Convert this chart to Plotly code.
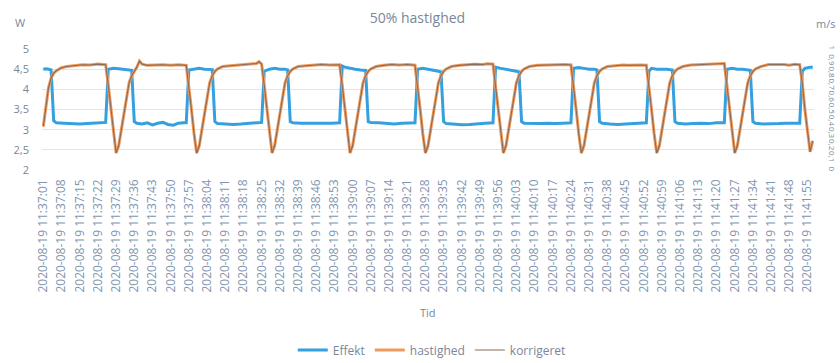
import pandas as pd
import plotly.graph_objects as go

# Tick labels on the time axis (every 7 s)
TICK_LABELS = [
    "2020-08-19 11:37:01", "2020-08-19 11:37:08", "2020-08-19 11:37:15", "2020-08-19 11:37:22",
    "2020-08-19 11:37:29", "2020-08-19 11:37:36", "2020-08-19 11:37:43", "2020-08-19 11:37:50",
    "2020-08-19 11:37:57", "2020-08-19 11:38:04", "2020-08-19 11:38:11", "2020-08-19 11:38:18",
    "2020-08-19 11:38:25", "2020-08-19 11:38:32", "2020-08-19 11:38:39", "2020-08-19 11:38:46",
    "2020-08-19 11:38:53", "2020-08-19 11:39:00", "2020-08-19 11:39:07", "2020-08-19 11:39:14",
    "2020-08-19 11:39:21", "2020-08-19 11:39:28", "2020-08-19 11:39:35", "2020-08-19 11:39:42",
    "2020-08-19 11:39:49", "2020-08-19 11:39:56", "2020-08-19 11:40:03", "2020-08-19 11:40:10",
    "2020-08-19 11:40:17", "2020-08-19 11:40:24", "2020-08-19 11:40:31", "2020-08-19 11:40:38",
    "2020-08-19 11:40:45", "2020-08-19 11:40:52", "2020-08-19 11:40:59", "2020-08-19 11:41:06",
    "2020-08-19 11:41:13", "2020-08-19 11:41:20", "2020-08-19 11:41:27", "2020-08-19 11:41:34",
    "2020-08-19 11:41:41", "2020-08-19 11:41:48", "2020-08-19 11:41:55",
]

# Effekt [W]: seconds after 11:37:01 and measured power
EFFEKT_T = [
    0, 1, 2, 3, 4, 5, 8, 11, 14, 17, 20, 22, 24,
    25, 27, 29, 31, 33, 34,
    35, 36, 38, 40, 42, 44, 46, 48, 50, 52, 54, 55,
    56, 58, 60, 62, 64, 65,
    66, 67, 70, 73, 76, 79, 82, 84,
    85, 87, 89, 91, 93, 94,
    95, 96, 99, 102, 105, 108, 111, 114,
    115, 116, 118, 120, 122, 124,
    125, 126, 129, 132, 135, 138, 141, 143,
    144, 146, 148, 150, 152, 153,
    154, 155, 158, 161, 164, 167, 170, 173,
    174, 176, 178, 180, 182, 183,
    184, 185, 188, 191, 194, 197, 200, 203,
    204, 206, 208, 210, 212, 213,
    214, 215, 218, 221, 224, 227, 230, 232,
    233, 234, 236, 238, 240, 242,
    243, 244, 247, 250, 253, 256, 259, 262,
    263, 265, 267, 269, 271, 272,
    273, 274, 277, 280, 283, 286, 289, 291,
    292, 293, 295, 296,
]
EFFEKT_V = [
    4.50, 4.51, 4.50, 4.48, 3.22, 3.17, 3.16, 3.15, 3.14, 3.15, 3.17, 3.18, 3.18,
    4.50, 4.52, 4.51, 4.50, 4.48, 4.47,
    3.20, 3.16, 3.14, 3.17, 3.12, 3.16, 3.18, 3.13, 3.11, 3.16, 3.17, 3.17,
    4.48, 4.50, 4.52, 4.50, 4.50, 4.49,
    3.20, 3.15, 3.14, 3.13, 3.14, 3.15, 3.17, 3.18,
    4.45, 4.50, 4.52, 4.50, 4.50, 4.48,
    3.20, 3.17, 3.16, 3.16, 3.15, 3.15, 3.16, 3.17,
    4.58, 4.55, 4.52, 4.50, 4.48, 4.47,
    3.20, 3.18, 3.17, 3.15, 3.14, 3.16, 3.17, 3.17,
    4.50, 4.52, 4.50, 4.48, 4.45, 4.43,
    3.20, 3.15, 3.13, 3.12, 3.13, 3.15, 3.16, 3.17,
    4.55, 4.52, 4.50, 4.48, 4.45, 4.43,
    3.20, 3.16, 3.15, 3.15, 3.16, 3.15, 3.16, 3.17,
    4.52, 4.54, 4.52, 4.50, 4.50, 4.48,
    3.20, 3.16, 3.14, 3.13, 3.14, 3.15, 3.17, 3.17,
    4.45, 4.52, 4.50, 4.50, 4.50, 4.48,
    3.20, 3.16, 3.14, 3.15, 3.16, 3.15, 3.17, 3.17,
    4.50, 4.52, 4.50, 4.50, 4.48, 4.47,
    3.20, 3.16, 3.14, 3.14, 3.15, 3.16, 3.15, 3.16,
    4.45, 4.52, 4.55, 4.55,
]

# hastighed [m/s]: seconds after 11:37:01 and measured speed
HASTIGHED_T = [
    0, 1, 2, 3, 4, 5, 7, 9, 12, 15, 18, 21, 23, 24,
    25, 26, 27, 28, 29, 30, 31, 32, 33, 34, 35, 36, 37, 38, 40, 43, 46, 49, 52, 55,
    56, 57, 58, 59, 60, 61, 62, 63, 64, 65, 66, 67, 69, 72, 75, 78, 80, 82, 83, 84,
    85, 86, 87, 88, 89, 90, 91, 92, 93, 94, 95, 96, 98, 101, 104, 107, 110, 113, 114,
    115, 116, 117, 118, 119, 120, 121, 122, 123, 124, 125, 126, 128, 131, 134, 137, 140, 143,
    144, 145, 146, 147, 148, 149, 150, 151, 152, 153, 154, 155, 157, 160, 163, 166, 169, 171, 173,
    174, 175, 176, 177, 178, 179, 180, 181, 182, 183, 184, 185, 187, 190, 193, 196, 199, 201, 203,
    204, 205, 206, 207, 208, 209, 210, 211, 212, 213, 214, 215, 217, 220, 223, 225, 228, 230, 232,
    233, 234, 235, 236, 237, 238, 239, 240, 241, 242, 243, 244, 246, 249, 252, 255, 258, 260, 262,
    263, 264, 265, 266, 267, 268, 269, 270, 271, 272, 273, 274, 276, 279, 282, 285, 287, 289, 291,
    292, 293, 294, 295, 296,
]
HASTIGHED_V = [
    0.36, 0.54, 0.68, 0.76, 0.80, 0.82, 0.845, 0.855, 0.865, 0.870, 0.868, 0.875, 0.872, 0.870,
    0.70, 0.50, 0.30, 0.14, 0.20, 0.33, 0.48, 0.62, 0.72, 0.78, 0.815, 0.85, 0.90, 0.875, 0.865, 0.868, 0.870, 0.866, 0.870, 0.865,
    0.70, 0.50, 0.30, 0.14, 0.20, 0.33, 0.48, 0.62, 0.72, 0.78, 0.815, 0.835, 0.855, 0.862, 0.868, 0.872, 0.875, 0.880, 0.895, 0.875,
    0.70, 0.50, 0.30, 0.14, 0.20, 0.33, 0.48, 0.62, 0.72, 0.78, 0.815, 0.835, 0.855, 0.862, 0.870, 0.872, 0.868, 0.872, 0.870,
    0.70, 0.50, 0.30, 0.14, 0.20, 0.33, 0.48, 0.62, 0.72, 0.78, 0.815, 0.835, 0.855, 0.865, 0.872, 0.868, 0.872, 0.866,
    0.70, 0.50, 0.30, 0.14, 0.20, 0.33, 0.48, 0.62, 0.72, 0.78, 0.815, 0.835, 0.855, 0.865, 0.870, 0.875, 0.872, 0.878, 0.875,
    0.70, 0.50, 0.30, 0.14, 0.20, 0.33, 0.48, 0.62, 0.72, 0.78, 0.815, 0.835, 0.855, 0.865, 0.868, 0.865, 0.870, 0.872, 0.868,
    0.70, 0.50, 0.30, 0.14, 0.20, 0.33, 0.48, 0.62, 0.72, 0.78, 0.815, 0.835, 0.855, 0.862, 0.868, 0.865, 0.870, 0.868, 0.866,
    0.70, 0.50, 0.30, 0.14, 0.20, 0.33, 0.48, 0.62, 0.72, 0.78, 0.815, 0.835, 0.855, 0.868, 0.872, 0.875, 0.878, 0.882, 0.880,
    0.70, 0.50, 0.30, 0.14, 0.20, 0.33, 0.48, 0.62, 0.72, 0.78, 0.815, 0.835, 0.855, 0.872, 0.875, 0.872, 0.866, 0.874, 0.870,
    0.72, 0.50, 0.30, 0.15, 0.24,
]

# korrigeret [m/s]: the corrected speed follows the measured speed
KORRIGERET_T = list(HASTIGHED_T)
KORRIGERET_V = list(HASTIGHED_V)

start = pd.Timestamp(TICK_LABELS[0])


def to_time(offsets):
    return start + pd.to_timedelta(offsets, unit="s")


def fmt(ts):
    return ts.strftime("%Y-%m-%d %H:%M:%S.%f")[:-3]


TEXT = "#7a8699"
FONT = "Open Sans"

fig = go.Figure()
fig.add_trace(go.Scatter(
    x=to_time(EFFEKT_T), y=EFFEKT_V, name="Effekt", mode="lines",
    line=dict(color="#34a0e0", width=3), yaxis="y",
))
fig.add_trace(go.Scatter(
    x=to_time(HASTIGHED_T), y=HASTIGHED_V, name="hastighed", mode="lines",
    line=dict(color="#ee9a5e", width=3), yaxis="y2",
))
fig.add_trace(go.Scatter(
    x=to_time(KORRIGERET_T), y=KORRIGERET_V, name="korrigeret", mode="lines",
    line=dict(color="#8a6c58", width=1.1), yaxis="y2",
))

x_lo = start - pd.Timedelta(seconds=0.5)
x_hi = start + pd.Timedelta(seconds=296.5)

fig.update_layout(
    width=840, height=363,
    margin=dict(l=42, r=26, t=49, b=193, autoexpand=False),
    paper_bgcolor="white", plot_bgcolor="white",
    separators=",.",
    font=dict(family=FONT, color=TEXT, size=11),
    title=dict(text="50% hastighed", x=0.497, xanchor="center", y=0.95, yanchor="middle",
               font=dict(size=14, color=TEXT, family=FONT)),
    showlegend=True,
    legend=dict(orientation="h", xref="container", yref="container",
                x=0.514, xanchor="center", y=0.036, yanchor="middle",
                font=dict(size=12, color=TEXT), itemwidth=30),
    xaxis=dict(
        type="date", range=[fmt(x_lo), fmt(x_hi)], automargin=False,
        tickmode="array", tickvals=TICK_LABELS, ticktext=TICK_LABELS,
        tickangle=-90, tickfont=dict(size=12, color="#8195b0"),
        showgrid=False, zeroline=False, showline=False, ticks="",
        ticklabelstandoff=6,
    ),
    yaxis=dict(
        range=[2, 5], dtick=0.5, tick0=2, automargin=False,
        showgrid=True, gridcolor="#e4e4e4", gridwidth=1,
        zeroline=False, showline=False, ticks="",
        tickfont=dict(size=11, color=TEXT), ticklabelstandoff=12,
    ),
    yaxis2=dict(
        range=[0, 1], dtick=0.1, tick0=0, overlaying="y", side="right", automargin=False,
        showgrid=False, zeroline=False, showline=False, ticks="",
        tickangle=90, tickfont=dict(size=8, color=TEXT), ticklabelstandoff=12,
    ),
    annotations=[
        dict(text="Tid", xref="paper", yref="paper", x=0.5, y=-1.18,
             xanchor="center", yanchor="middle", showarrow=False,
             font=dict(size=11, color=TEXT)),
        dict(text="W", xref="paper", yref="paper", x=-0.0285, y=1.223,
             xanchor="center", yanchor="middle", showarrow=False,
             font=dict(size=11, color=TEXT)),
        dict(text="m/s", xref="paper", yref="paper", x=1.0, y=1.207,
             xanchor="left", yanchor="middle", showarrow=False,
             font=dict(size=11, color=TEXT)),
    ],
)

fig.write_html("out.html")
